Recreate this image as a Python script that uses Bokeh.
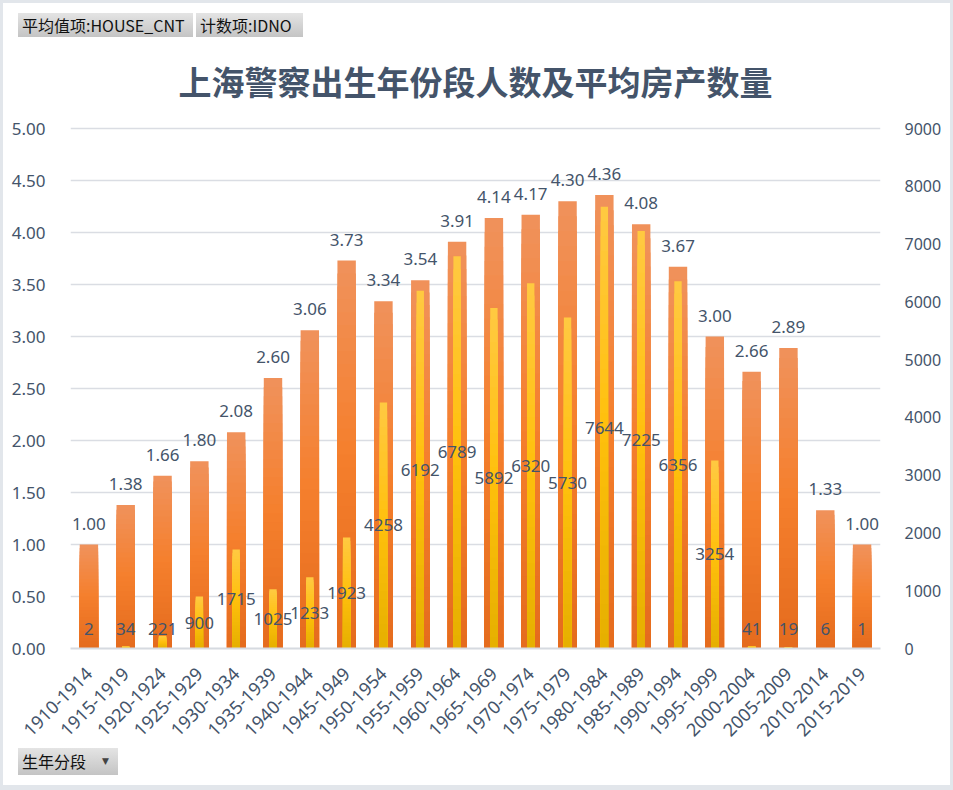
import numpy as np
from bokeh.plotting import figure
from bokeh.layouts import column
from bokeh.models import (ColumnDataSource, Range1d, LinearAxis, FixedTicker,
                          NumeralTickFormatter, FactorRange, Div, Label)
from bokeh.core.properties import value
from bokeh.embed import file_html
from bokeh.resources import INLINE

# ---- data -------------------------------------------------------------
periods = ["1910-1914", "1915-1919", "1920-1924", "1925-1929", "1930-1934",
           "1935-1939", "1940-1944", "1945-1949", "1950-1954", "1955-1959",
           "1960-1964", "1965-1969", "1970-1974", "1975-1979", "1980-1984",
           "1985-1989", "1990-1994", "1995-1999", "2000-2004", "2005-2009",
           "2010-2014", "2015-2019"]
avg_house = [1.00, 1.38, 1.66, 1.80, 2.08, 2.60, 3.06, 3.73, 3.34, 3.54, 3.91,
             4.14, 4.17, 4.30, 4.36, 4.08, 3.67, 3.00, 2.66, 2.89, 1.33, 1.00]
id_count = [2, 34, 221, 900, 1715, 1025, 1233, 1923, 4258, 6192, 6789,
            5892, 6320, 5730, 7644, 7225, 6356, 3254, 41, 19, 6, 1]
left_ticks = [0, 0.5, 1.0, 1.5, 2.0, 2.5, 3.0, 3.5, 4.0, 4.5, 5.0]
right_ticks = [0, 1000, 2000, 3000, 4000, 5000, 6000, 7000, 8000, 9000]

TITLE = "上海警察出生年份段人数及平均房产数量"
SLATE = "#44546A"
EDGE = "#E2E6EB"
NUM_FONT = "Noto Sans"
CJK_FONT = "Noto Sans CJK SC"

# ---- page geometry --------------------------------------------------------
PAD = 3                     # grey edge round the chart area
W = 953 - 2 * PAD           # inner width
TOP_H, FIG_H, BOT_H = 42, 700, 40
FL, FR = 67, 877            # frame left / right inside the figure
FB = 603                    # frame bottom (value 0) inside the figure
GRID_TOP = 83               # pixel row of the top tick (5.00 / 9000)
TITLE_Y = 35                # pixel row of the title's centre

# the frame reaches the top of the figure so the title can sit inside it;
# the axis tops are stretched so the top tick still lands on GRID_TOP
stretch = FB / (FB - GRID_TOP)
left_max = left_ticks[-1] * stretch
right_max = right_ticks[-1] * stretch

p = figure(width=W, height=FIG_H, x_range=FactorRange(*periods, range_padding=0),
           y_range=Range1d(0, left_max), output_backend="svg", toolbar_location=None,
           min_border_left=FL, min_border_right=W - FR,
           min_border_top=0, min_border_bottom=FIG_H - FB,
           margin=(0, PAD, 0, PAD))
p.styles = {"background-color": "white"}
p.title.visible = False
p.outline_line_color = None
p.background_fill_color = "white"
p.border_fill_color = "white"
p.extra_y_ranges = {"cnt": Range1d(0, right_max)}


def lerp_stops(stops, t):
    """Colour at position t (0=bottom, 1=top) of a multi-stop gradient."""
    for (t0, c0), (t1, c1) in zip(stops, stops[1:]):
        if t <= t1:
            f = (t - t0) / (t1 - t0)
            c = [round(a + (b - a) * f) for a, b in zip(c0, c1)]
            return "#%02x%02x%02x" % tuple(c)
    return "#%02x%02x%02x" % tuple(stops[-1][1])


def gradient_source(cats, vals, stops, n=30):
    # nested bars from 0 up to k/n of each value, tallest first, so the
    # shorter (darker) ones paint over the lower part of the taller ones
    xs, tops, cols = [], [], []
    for k in range(n, 0, -1):
        col = lerp_stops(stops, (k - 0.5) / n)
        for c, v in zip(cats, vals):
            xs.append(c)
            tops.append(v * k / n)
            cols.append(col)
    return ColumnDataSource(dict(x=xs, top=tops, color=cols))


orange_stops = [(0.0, (228, 107, 30)), (0.5, (245, 127, 44)), (1.0, (240, 146, 92))]
gold_stops = [(0.0, (229, 175, 0)), (0.5, (255, 192, 12)), (1.0, (255, 201, 66))]

p.vbar(x="x", top="top", bottom=0, width=0.5, color="color", line_color=None,
       source=gradient_source(periods, avg_house, orange_stops))
p.vbar(x="x", top="top", bottom=0, width=0.2, color="color", line_color=None,
       y_range_name="cnt", source=gradient_source(periods, id_count, gold_stops))

# ---- data labels --------------------------------------------------------
avg_src = ColumnDataSource(dict(x=periods, y=avg_house,
                                t=["%.2f" % v for v in avg_house]))
p.text(x="x", y="y", text="t", source=avg_src, text_align="center",
       text_baseline="bottom", y_offset=-15, text_color=SLATE,
       text_font=value(NUM_FONT), text_font_size="17px")

# count labels sit at the bar's middle, kept clear of the axis line
min_mid = 20 * right_max / FB
cnt_src = ColumnDataSource(dict(x=periods,
                                y=np.maximum(np.array(id_count) / 2, min_mid),
                                t=[str(v) for v in id_count]))
p.text(x="x", y="y", text="t", source=cnt_src, y_range_name="cnt",
       text_align="center", text_baseline="middle", text_color=SLATE,
       text_font=value(NUM_FONT), text_font_size="17px")

# ---- chart title ----------------------------------------------------------
p.add_layout(Label(x=len(periods) / 2, y=left_max * (FB - TITLE_Y) / FB,
                   text=TITLE, text_align="center", text_baseline="middle",
                   text_font=CJK_FONT, text_font_size="33px",
                   text_font_style="bold", text_color=SLATE))

# ---- axes ---------------------------------------------------------------
p.xgrid.grid_line_color = None
p.ygrid.ticker = FixedTicker(ticks=left_ticks)
p.ygrid.grid_line_color = "#DADDE3"
p.ygrid.grid_line_width = 1.5

for ax in p.yaxis:
    ax.ticker = FixedTicker(ticks=left_ticks)
    ax.formatter = NumeralTickFormatter(format="0.00")
    ax.axis_line_color = None
    ax.major_tick_line_color = None
    ax.minor_tick_line_color = None
    ax.major_label_standoff = 19
    ax.major_label_text_color = SLATE
    ax.major_label_text_font = NUM_FONT
    ax.major_label_text_font_size = "17px"

rax = LinearAxis(y_range_name="cnt", ticker=FixedTicker(ticks=right_ticks))
rax.axis_line_color = None
rax.major_tick_line_color = None
rax.minor_tick_line_color = None
rax.major_label_standoff = 18
rax.major_label_text_color = SLATE
rax.major_label_text_font = NUM_FONT
rax.major_label_text_font_size = "16px"
p.add_layout(rax, "right")

for ax in p.xaxis:
    ax.axis_line_color = "#D6DAE0"
    ax.axis_line_width = 2
    ax.major_tick_line_color = None
    ax.minor_tick_line_color = None
    ax.major_label_orientation = np.pi / 4
    ax.major_label_standoff = 16
    ax.major_label_text_color = SLATE
    ax.major_label_text_font = NUM_FONT
    ax.major_label_text_font_size = "18px"

# ---- pivot-field buttons above and below the chart --------------------------
BTN = ("position:absolute; box-sizing:border-box; padding:0 4px; "
       "font-family:'Noto Sans CJK SC'; font-size:16px; color:#111; "
       "background:linear-gradient(#E4E4E4,#C4C4C4); white-space:nowrap; ")

top_bar = Div(width=W, height=TOP_H, margin=(PAD, PAD, 0, PAD),
              styles={"background-color": "white"},
              text=(f'<div style="position:relative; width:{W}px; height:{TOP_H}px;">'
                    f'<span style="{BTN} left:15px; top:10px; width:175px; height:24px; '
                    f'line-height:24px;">平均值项:HOUSE_CNT</span>'
                    f'<span style="{BTN} left:193px; top:10px; width:107px; height:24px; '
                    f'line-height:24px;">计数项:IDNO</span></div>'))
bottom_bar = Div(width=W, height=BOT_H, margin=(0, PAD, 5, PAD),
                 styles={"background-color": "white"},
                 text=(f'<div style="position:relative; width:{W}px; height:{BOT_H}px;">'
                       f'<span style="{BTN} left:15px; top:3px; width:100px; height:27px; '
                       f'line-height:27px;">生年分段'
                       f'<span style="position:absolute; left:84px; top:0; font-size:9px; '
                       f'color:#444; font-family:\'DejaVu Sans\';">▼</span></span></div>'))

page = column(top_bar, p, bottom_bar, spacing=0, margin=0,
              styles={"background-color": EDGE})
open("out.html", "w").write(file_html(page, INLINE))
